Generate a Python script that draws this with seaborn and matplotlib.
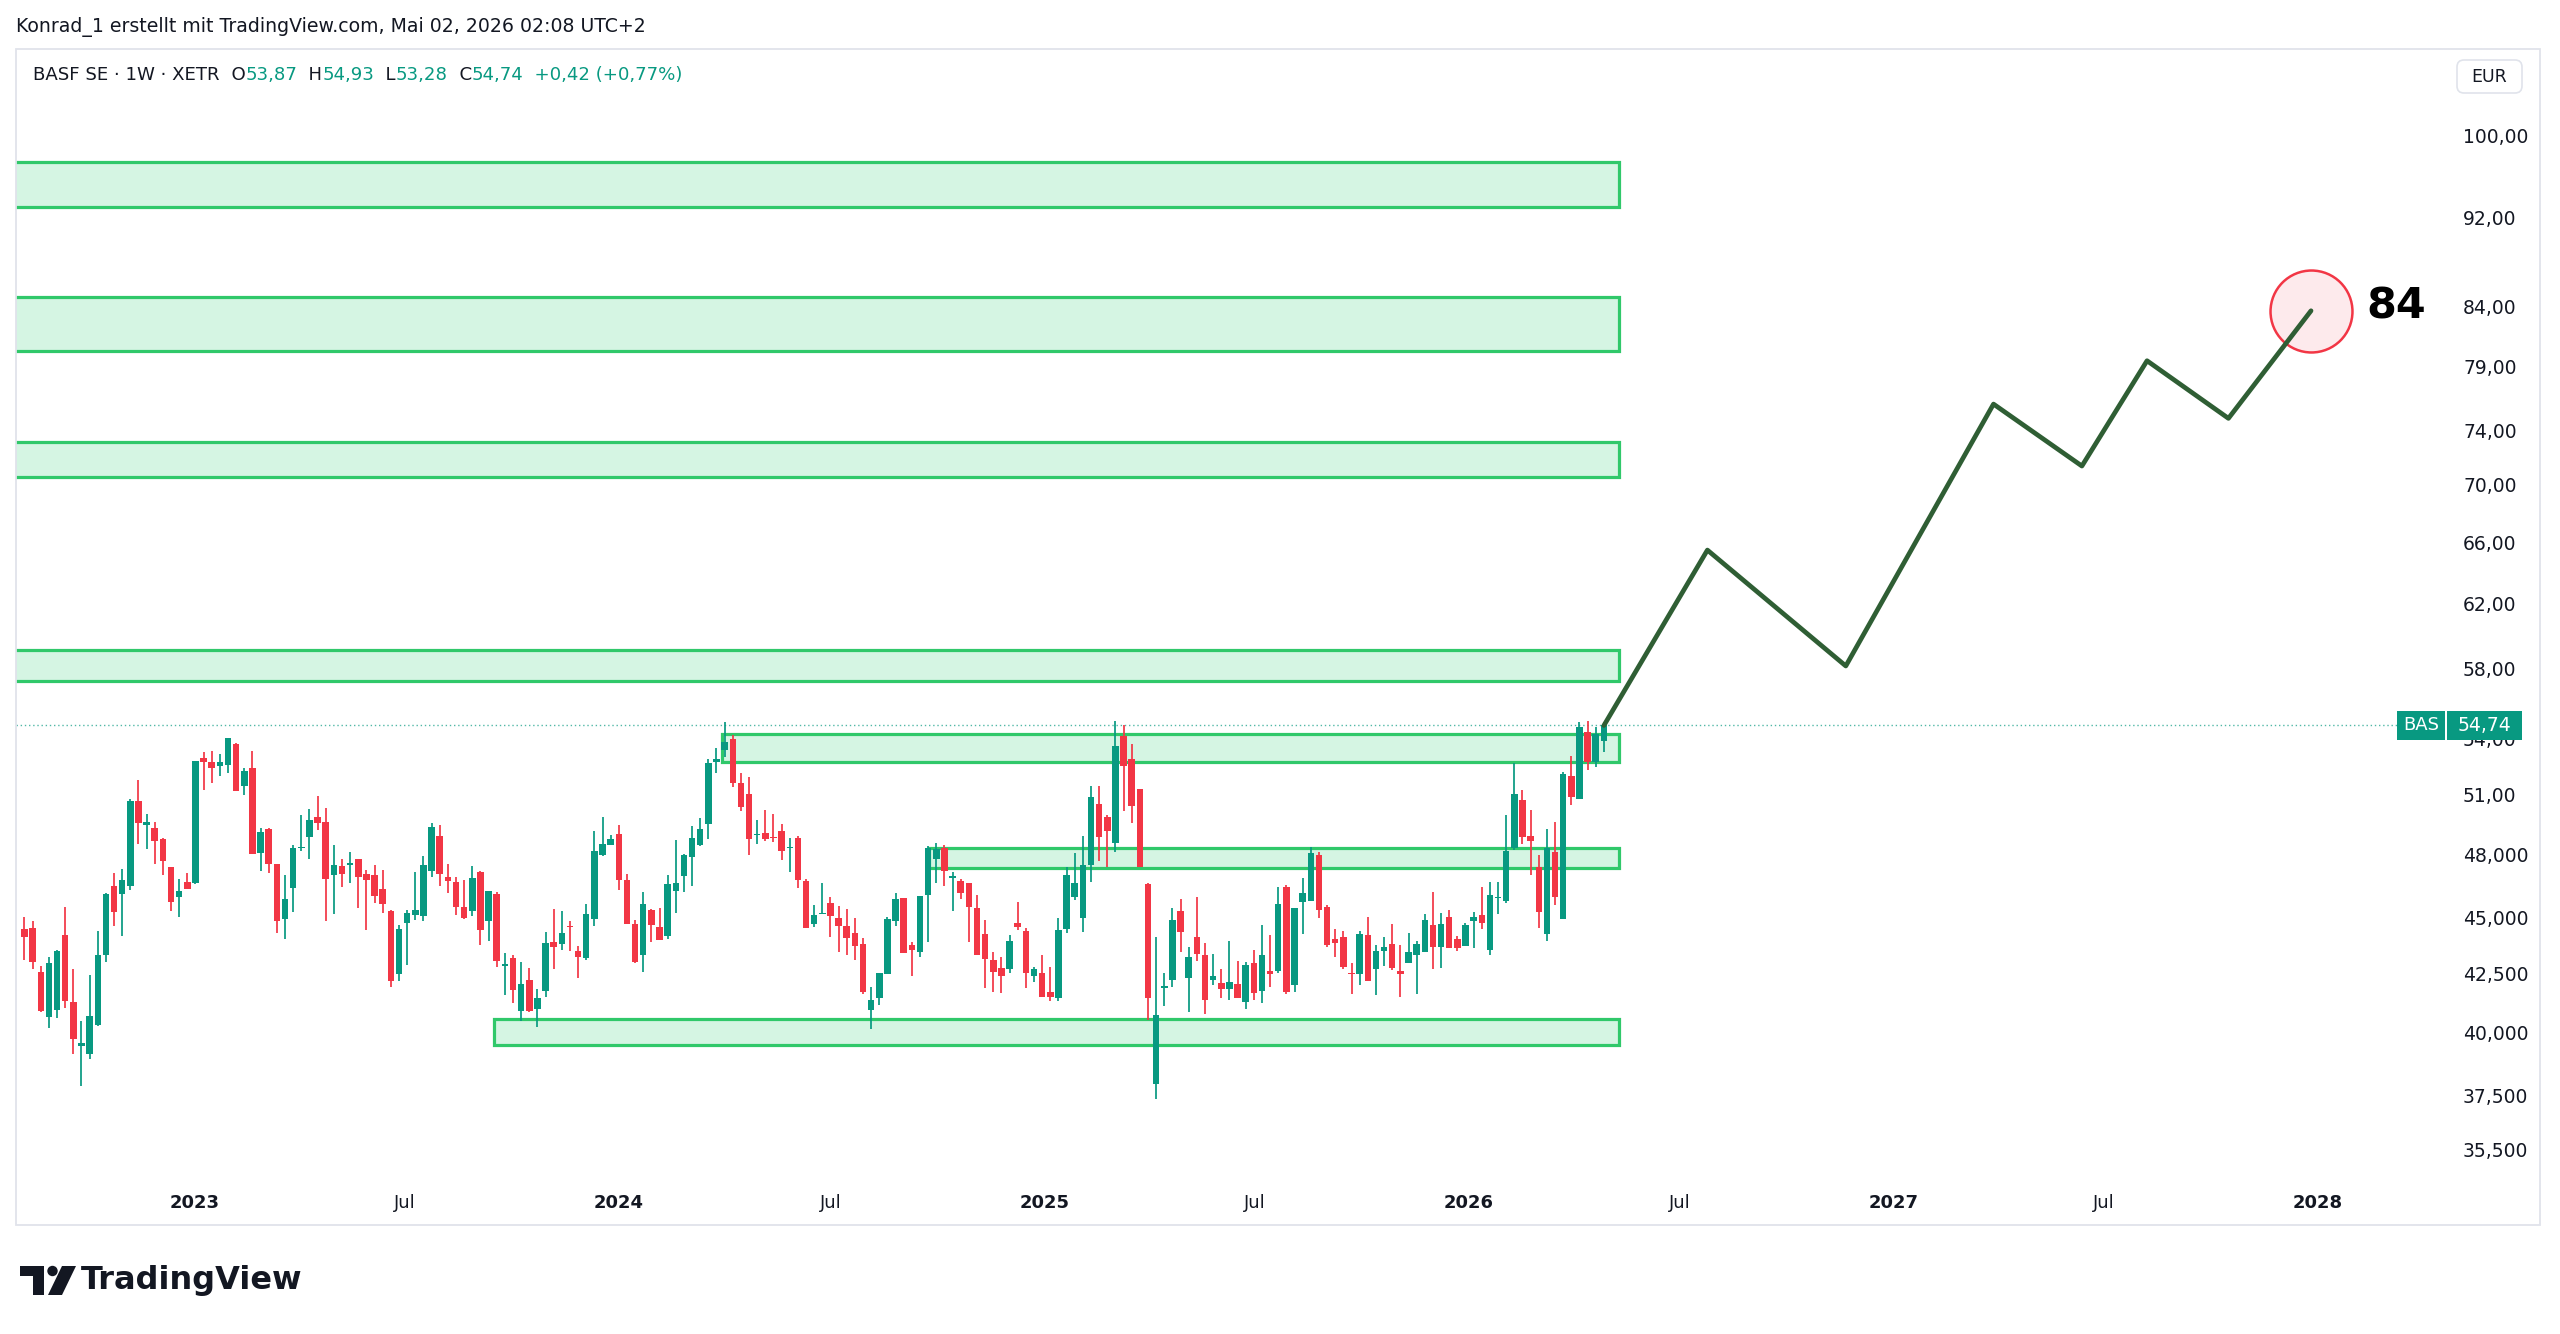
import numpy as np
import pandas as pd
import matplotlib
matplotlib.use("Agg")
import matplotlib.pyplot as plt
import matplotlib.dates as mdates
import matplotlib.ticker as mticker
from matplotlib.patches import Rectangle, FancyBboxPatch, Circle, Polygon
from matplotlib.transforms import IdentityTransform
from matplotlib import font_manager
import seaborn as sns

# ---------------- data ----------------
first_week = "2022-08-08"   # weekly candles (Monday)

open_ = [44.46, 44.53, 42.56, 40.63, 40.93, 44.18, 41.27, 39.47, 39.12, 40.31,
         43.32, 46.45, 46.07, 46.46, 50.70, 49.43, 49.30, 48.75, 47.36, 45.94,
         46.67, 46.59, 52.94, 52.74, 52.51, 52.56, 53.71, 51.46, 52.44, 48.06,
         49.26, 47.50, 44.90, 46.38, 48.31, 48.87, 49.87, 49.58, 46.97, 47.44,
         47.47, 47.77, 47.04, 46.99, 46.30, 45.28, 42.47, 44.73, 45.11, 45.06,
         47.20, 48.88, 46.89, 46.67, 45.47, 45.29, 47.13, 44.85, 46.10, 42.83,
         43.18, 40.89, 42.20, 40.97, 41.74, 43.90, 43.79, 44.59, 43.47, 43.15,
         44.90, 47.98, 48.47, 48.98, 46.73, 44.70, 43.28, 45.32, 44.56, 44.17,
         46.24, 46.96, 47.88, 48.44, 49.50, 52.76, 53.37, 54.00, 51.64, 51.03,
         48.93, 49.06, 48.87, 49.15, 48.31, 48.78, 46.69, 44.68, 45.14, 45.65,
         44.96, 44.62, 44.27, 43.81, 40.93, 41.43, 42.46, 44.82, 45.88, 43.76,
         43.44, 46.04, 47.77, 48.29, 46.85, 46.72, 46.59, 45.44, 44.23, 43.10,
         42.73, 42.67, 44.75, 44.37, 42.38, 42.50, 41.71, 41.45, 44.47, 45.93,
         44.97, 47.49, 50.54, 49.87, 48.57, 54.17, 52.90, 51.28, 46.54, 37.94,
         41.88, 42.23, 45.31, 42.30, 44.11, 43.29, 42.23, 42.07, 41.81, 42.04,
         41.25, 42.93, 41.74, 42.61, 42.61, 46.41, 41.98, 45.69, 45.77, 47.96,
         45.49, 44.03, 44.11, 42.51, 42.46, 44.18, 42.67, 43.49, 43.78, 42.60,
         42.96, 43.28, 43.44, 44.65, 43.66, 45.00, 44.00, 43.70, 44.82, 45.09,
         43.54, 45.88, 45.76, 48.29, 50.75, 48.90, 47.36, 44.26, 48.09, 44.91,
         51.99, 50.79, 54.36, 52.76, 53.87]
high_ = [45.00, 44.84, 42.82, 43.22, 43.52, 45.47, 42.70, 40.49, 42.41, 44.38,
         46.11, 47.09, 47.26, 50.77, 51.78, 50.03, 49.58, 48.82, 47.36, 46.81,
         47.09, 52.80, 53.30, 53.35, 53.16, 54.02, 53.79, 52.44, 53.35, 49.30,
         49.30, 47.50, 46.99, 48.47, 49.98, 50.27, 50.91, 50.32, 48.47, 47.77,
         48.11, 47.77, 47.23, 47.46, 47.23, 45.34, 44.64, 45.34, 47.13, 47.91,
         49.55, 49.45, 47.54, 46.91, 46.73, 47.41, 47.18, 46.22, 46.16, 43.38,
         43.32, 42.98, 42.73, 41.84, 44.32, 45.37, 45.28, 44.81, 43.72, 45.61,
         49.16, 49.84, 48.93, 49.45, 47.04, 44.88, 46.19, 45.40, 45.44, 46.97,
         48.68, 48.01, 49.40, 49.80, 52.90, 53.50, 54.92, 54.23, 52.15, 51.94,
         49.68, 50.22, 50.03, 49.48, 48.78, 48.90, 46.81, 45.57, 46.59, 45.94,
         45.52, 45.40, 44.96, 44.06, 41.92, 42.51, 45.00, 46.11, 45.88, 43.86,
         46.00, 48.40, 48.54, 48.44, 47.12, 46.81, 46.59, 46.05, 44.88, 43.44,
         43.22, 44.20, 45.71, 44.53, 42.76, 43.29, 42.79, 44.96, 47.39, 48.04,
         48.90, 51.48, 51.44, 49.96, 55.01, 54.79, 53.71, 51.28, 46.62, 44.11,
         42.53, 45.44, 45.83, 43.64, 45.96, 43.85, 43.34, 42.69, 43.91, 43.03,
         42.99, 43.52, 44.64, 44.20, 46.41, 46.51, 45.43, 46.86, 48.37, 48.09,
         45.57, 44.47, 44.37, 42.96, 44.37, 45.00, 43.76, 44.11, 44.70, 43.76,
         44.29, 43.94, 45.14, 46.16, 45.19, 45.32, 44.15, 44.76, 45.23, 46.41,
         46.67, 46.67, 49.96, 52.67, 51.25, 50.22, 47.96, 49.26, 49.60, 52.18,
         53.07, 54.96, 55.01, 54.64, 54.93]
low_ = [43.10, 42.67, 40.85, 40.20, 40.59, 41.00, 39.12, 37.89, 38.92, 40.28,
        42.99, 44.58, 44.15, 46.27, 48.52, 48.27, 47.54, 46.97, 45.31, 45.00,
        46.33, 46.56, 51.25, 51.64, 51.99, 52.15, 51.22, 51.01, 48.01, 47.18,
        47.10, 44.27, 44.03, 45.26, 48.16, 47.78, 49.20, 44.81, 45.14, 46.43,
        46.62, 45.44, 44.43, 45.65, 45.19, 41.92, 42.18, 42.86, 44.88, 44.85,
        46.91, 46.46, 46.11, 45.09, 44.94, 45.06, 43.73, 43.94, 42.76, 41.57,
        41.21, 40.48, 40.85, 40.23, 41.50, 42.70, 43.54, 43.47, 42.30, 43.08,
        44.59, 47.93, 48.44, 46.29, 44.70, 42.96, 42.57, 43.86, 43.95, 44.03,
        45.20, 46.16, 46.46, 48.40, 48.75, 52.15, 53.03, 51.39, 50.15, 47.96,
        48.49, 48.67, 48.62, 47.69, 47.13, 46.38, 44.52, 44.55, 45.13, 44.12,
        43.44, 43.31, 43.08, 41.61, 40.15, 41.13, 42.46, 44.58, 43.37, 42.38,
        43.22, 43.86, 46.59, 46.48, 45.28, 45.83, 43.90, 43.32, 41.88, 41.68,
        41.64, 42.50, 44.43, 41.85, 42.14, 41.50, 41.33, 41.33, 44.29, 45.80,
        44.33, 46.64, 47.64, 47.39, 48.11, 50.18, 49.56, 47.38, 40.51, 37.39,
        41.10, 41.91, 43.44, 40.85, 43.03, 40.78, 42.01, 41.45, 41.34, 41.45,
        40.97, 41.34, 41.21, 41.91, 42.50, 41.61, 41.70, 44.26, 45.77, 44.97,
        43.67, 43.22, 42.70, 41.61, 42.01, 42.18, 41.55, 42.82, 42.63, 41.50,
        42.93, 41.61, 43.44, 42.67, 42.74, 43.62, 43.49, 43.70, 43.59, 44.46,
        43.31, 45.14, 45.65, 48.21, 48.50, 46.97, 44.49, 43.91, 45.55, 44.91,
        50.47, 50.79, 52.31, 52.45, 53.28]
close_ = [44.12, 42.99, 40.89, 42.96, 43.47, 41.33, 39.73, 39.57, 40.68, 43.29,
          46.07, 45.23, 46.77, 50.66, 49.56, 49.58, 48.67, 47.64, 45.71, 46.21,
          46.33, 52.80, 52.71, 52.40, 52.74, 54.02, 51.22, 52.24, 48.01, 49.11,
          47.52, 44.85, 45.86, 48.32, 48.37, 49.68, 49.56, 46.78, 47.49, 47.05,
          47.59, 46.88, 46.74, 45.97, 45.63, 42.17, 44.46, 45.22, 45.34, 47.46,
          49.35, 47.05, 46.70, 45.49, 44.97, 46.86, 44.43, 46.22, 43.03, 42.92,
          41.78, 42.02, 40.90, 41.43, 43.84, 43.66, 44.27, 44.55, 43.19, 45.17,
          48.14, 48.50, 48.73, 46.73, 44.71, 42.98, 45.61, 44.64, 43.95, 46.54,
          46.61, 47.96, 48.78, 49.25, 52.69, 52.89, 53.80, 51.60, 50.37, 48.77,
          49.01, 48.77, 48.82, 48.16, 48.37, 46.75, 44.53, 45.12, 45.19, 45.06,
          44.59, 44.05, 43.70, 41.71, 41.36, 42.51, 44.91, 45.83, 43.37, 43.54,
          46.00, 48.29, 48.24, 47.20, 46.94, 46.11, 45.49, 43.32, 43.13, 42.54,
          42.40, 43.94, 44.55, 42.50, 42.67, 41.50, 41.50, 44.41, 46.99, 46.59,
          47.49, 50.89, 48.87, 49.13, 53.61, 52.51, 50.42, 47.38, 41.45, 40.73,
          41.92, 44.88, 44.35, 43.22, 43.35, 41.37, 42.37, 41.81, 42.11, 41.45,
          42.85, 41.67, 43.29, 42.47, 45.61, 41.71, 45.43, 46.14, 48.04, 45.32,
          43.73, 43.82, 42.79, 42.46, 44.23, 42.18, 43.47, 43.67, 42.74, 42.46,
          43.43, 43.78, 44.88, 43.66, 44.70, 43.62, 43.62, 44.67, 45.00, 44.76,
          46.05, 45.94, 48.14, 51.04, 48.85, 48.67, 45.23, 48.32, 45.93, 52.08,
          50.87, 54.64, 52.72, 54.29, 54.74]

last_price = 54.74

# zones (price bands)
zone_low = [92.93, 80.24, 70.57, 57.29, 52.74, 47.34, 39.51]
zone_high = [97.37, 84.78, 73.09, 59.14, 54.26, 48.32, 40.54]
zone_start = ["2022-06-01", "2022-06-01", "2022-06-01", "2022-06-01",
              "2024-03-30", "2024-09-24", "2023-09-16"]
zone_end = "2026-05-10"

# projected path
proj_dates = ["2026-04-27", "2026-07-25", "2026-11-21", "2027-03-28",
              "2027-06-12", "2027-08-07", "2027-10-16", "2027-12-26"]
proj_prices = [54.74, 65.48, 58.17, 76.01, 71.35, 79.45, 74.91, 83.61]
target_label = "84"
target_price = 84.0
target_label_date = "2028-02-12"

ytick_vals = [100, 92, 84, 79, 74, 70, 66, 62, 58, 54, 51, 48, 45, 42.5, 40, 37.5, 35.5]
ytick_labels = ["100,00", "92,00", "84,00", "79,00", "74,00", "70,00", "66,00", "62,00",
                "58,00", "54,00", "51,00", "48,000", "45,000", "42,500", "40,000",
                "37,500", "35,500"]
xtick_dates = ["2023-01-01", "2023-07-01", "2024-01-01", "2024-07-01", "2025-01-01",
               "2025-07-01", "2026-01-01", "2026-07-01", "2027-01-01", "2027-07-01",
               "2028-01-01"]
xtick_labels = ["2023", "Jul", "2024", "Jul", "2025", "Jul", "2026", "Jul", "2027", "Jul", "2028"]

header_text = "Konrad_1 erstellt mit TradingView.com, Mai 02, 2026 02:08 UTC+2"
legend_parts = [("BASF SE · 1W · XETR", "k"), ("  O", "k"), ("53,87", "t"), ("  H", "k"),
                ("54,93", "t"), ("  L", "k"), ("53,28", "t"), ("  C", "k"), ("54,74", "t"),
                ("  +0,42 (+0,77%)", "t")]

# ---------------- style ----------------
sns.set_theme(style="white")
plt.rcParams["font.family"] = ["DejaVu Sans"]

avail = {f.name for f in font_manager.fontManager.ttflist}
if "Liberation Sans Narrow" in avail:
    head_font, head_size, leg_size = "Liberation Sans Narrow", 16.5, 16.5
else:
    head_font, head_size, leg_size = "DejaVu Sans", 13.6, 13.1

UP = "#089981"
DOWN = "#F23645"
TXT = "#131722"

W, H = 2560, 1334
fig = plt.figure(figsize=(W / 100, H / 100), dpi=100)
fig.patch.set_facecolor("white")

ax_l, ax_r, ax_t, ax_b = 16, 2450, 49, 1180
ax = fig.add_axes([ax_l / W, 1 - ax_b / H, (ax_r - ax_l) / W, (ax_b - ax_t) / H])
ax.set_facecolor("white")

ref = mdates.date2num(pd.Timestamp("2023-01-01"))
ax.set_xlim(ref - 153.3, ref + 1939.5)
ax.set_yscale("log")
ax.set_ylim(34.41, 109.24)

# zones
for lo, hi, st in zip(zone_low, zone_high, zone_start):
    x0 = mdates.date2num(pd.Timestamp(st))
    x1 = mdates.date2num(pd.Timestamp(zone_end))
    ax.add_patch(Rectangle((x0, lo), x1 - x0, hi - lo, facecolor="#d5f5e3",
                           edgecolor="#30c86a", lw=2.3, zorder=1))

# candles
o = np.array(open_); h = np.array(high_); l = np.array(low_); c = np.array(close_)
dates = pd.date_range(first_week, periods=len(o), freq="W-MON")
xd = mdates.date2num(dates)
cols = np.where(c >= o, UP, DOWN)
ax.vlines(xd, l, h, colors=cols, lw=1.25, zorder=2)
body_lo = np.minimum(o, c)
body_h = np.maximum(np.abs(c - o), 0.05)
ax.bar(xd, body_h, bottom=body_lo, width=5.6, color=cols, linewidth=0, zorder=3)

# last price dotted line
ax.axhline(last_price, xmin=0, xmax=(2397 - ax_l) / (ax_r - ax_l), color=UP,
           lw=1.0, ls=(0, (1, 2)), alpha=0.7, zorder=1.5)

# projection path
proj = pd.DataFrame({"x": mdates.date2num(pd.to_datetime(proj_dates)), "price": proj_prices})
ax.scatter([proj["x"].iloc[-1]], [proj["price"].iloc[-1]], s=3481,
           facecolor=(0.949, 0.212, 0.271, 0.10), edgecolor="#F23645", lw=1.8, zorder=5)
sns.lineplot(data=proj, x="x", y="price", ax=ax, color="#2f5e34", lw=3.4, sort=False, zorder=6)
ax.text(mdates.date2num(pd.Timestamp(target_label_date)), target_price, target_label,
        fontsize=31, fontweight="bold", color="black", ha="left", va="center", zorder=7)

# axes / ticks
ax.set_xlabel(""); ax.set_ylabel("")
for s in ax.spines.values():
    s.set_visible(False)
ax.grid(False)
ax.yaxis.tick_right()
ax.set_yticks(ytick_vals)
ax.set_yticklabels(ytick_labels)
ax.yaxis.set_minor_locator(mticker.NullLocator())
ax.yaxis.set_minor_formatter(mticker.NullFormatter())
ax.tick_params(axis="y", length=0, pad=9.4, labelsize=13.5, labelcolor=TXT,
               labelright=True, labelleft=False)
ax.set_xticks(mdates.date2num(pd.to_datetime(xtick_dates)))
ax.set_xticklabels(xtick_labels)
ax.tick_params(axis="x", length=0, pad=10, labelsize=13, labelcolor=TXT)
for lab in ax.get_xticklabels():
    if lab.get_text() != "Jul":
        lab.set_fontweight("bold")

I = IdentityTransform()

def Y(y):
    return H - y

# pane border
fig.add_artist(Rectangle((16, Y(1225)), 2540 - 16, 1225 - 49, transform=I,
                         fill=False, edgecolor="#e0e3eb", lw=1.3))

# header
fig.text(16, Y(27), header_text, transform=I, ha="left", va="center",
         fontsize=head_size, family=[head_font, "DejaVu Sans"], color=TXT)

# legend line
renderer = fig.canvas.get_renderer()
xcur = 33
for txt, col in legend_parts:
    t = fig.text(xcur, Y(75), txt, transform=I, ha="left", va="center",
                 fontsize=leg_size, family=[head_font, "DejaVu Sans"],
                 color=(TXT if col == "k" else UP))
    xcur = t.get_window_extent(renderer).x1

# EUR box
fig.add_artist(FancyBboxPatch((2457, Y(93)), 65, 33, boxstyle="round,pad=0,rounding_size=7",
                              transform=I, facecolor="white", edgecolor="#e0e3eb", lw=1.2))
fig.text(2489.5, Y(76.5), "EUR", transform=I, ha="center", va="center",
         fontsize=12.5, color=TXT)

# BAS price label
yc = ax.transData.transform((ax.get_xlim()[0], last_price))[1]
fig.add_artist(Rectangle((2397, yc - 14.5), 48, 29, transform=I, facecolor=UP,
                         edgecolor="none", zorder=10))
fig.add_artist(Rectangle((2447, yc - 14.5), 75, 29, transform=I, facecolor=UP,
                         edgecolor="none", zorder=10))
fig.text(2421, yc, "BAS", transform=I, ha="center", va="center", fontsize=13,
         color="white", zorder=11)
fig.text(2484.5, yc, f"{last_price:.2f}".replace(".", ","), transform=I, ha="center",
         va="center", fontsize=13.5, color="white", zorder=11)

# TradingView logo
logo_col = "#131722"
fig.add_artist(Rectangle((20, Y(1276)), 24, 10, transform=I, facecolor=logo_col, edgecolor="none"))
fig.add_artist(Rectangle((33, Y(1295)), 11, 29, transform=I, facecolor=logo_col, edgecolor="none"))
fig.add_artist(Circle((52.5, Y(1271)), 5.2, transform=I, facecolor=logo_col, edgecolor="none"))
fig.add_artist(Polygon([(62, Y(1266)), (76, Y(1266)), (62, Y(1295)), (48, Y(1295))],
                       closed=True, transform=I, facecolor=logo_col, edgecolor="none"))
fig.text(81, Y(1281), "TradingView", transform=I, ha="left", va="center",
         fontsize=23, fontweight="bold", color=logo_col)

fig.savefig("out.png", dpi=100, facecolor="white")
